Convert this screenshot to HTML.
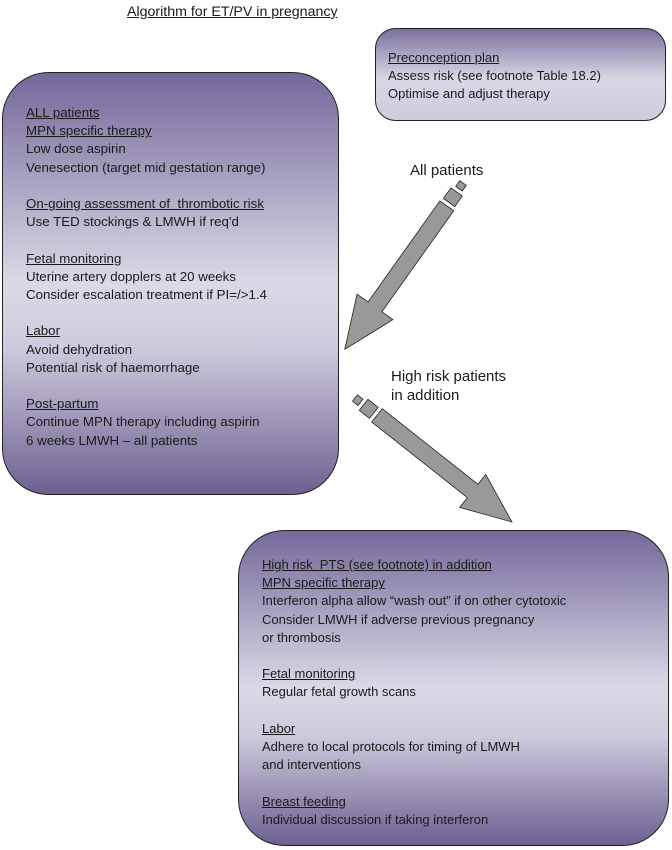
<!DOCTYPE html>
<html><head><meta charset="utf-8"><style>
body{margin:0;width:672px;height:850px;background:#fff;position:relative;overflow:hidden;font-family:"Liberation Sans",Arial,sans-serif;color:#1a1a1a}
.t{position:absolute;font-size:13px;line-height:18.2px;white-space:pre}
u{text-decoration:underline}
</style></head><body>
<svg width="672" height="850" style="position:absolute;left:0;top:0">
<defs>
<linearGradient id="g" x1="0" y1="0" x2="0" y2="1">
<stop offset="0" stop-color="#74689a"/>
<stop offset="0.5" stop-color="#dcd9e6"/>
<stop offset="0.65" stop-color="#cfcadd"/>
<stop offset="1" stop-color="#6c6091"/>
</linearGradient>
<linearGradient id="g2" x1="0" y1="0" x2="0" y2="1">
<stop offset="0" stop-color="#7a6f9e"/>
<stop offset="0.55" stop-color="#dad7e5"/>
<stop offset="1" stop-color="#cfcbdd"/>
</linearGradient>
</defs>
<rect x="375.5" y="28.5" width="290" height="92" rx="20" fill="url(#g2)" stroke="#222" stroke-width="1"/>
<rect x="2.5" y="72.5" width="336" height="422" rx="46" fill="url(#g)" stroke="#222" stroke-width="1"/>
<rect x="238.5" y="530.5" width="430" height="315" rx="46" fill="url(#g)" stroke="#222" stroke-width="1"/>
<g transform="translate(463,183) rotate(125.4)" fill="#999" stroke="#222" stroke-width="0.8">
<rect x="0" y="-4" width="7" height="8"/>
<rect x="11" y="-7" width="13" height="14"/>
<polygon points="28,-8.5 152,-8.5 152,-22 204,0 152,22 152,8.5 28,8.5"/>
</g>
<g transform="translate(355,398) rotate(38.3)" fill="#999" stroke="#222" stroke-width="0.8">
<rect x="0" y="-4" width="7" height="8"/>
<rect x="11" y="-7" width="13" height="14"/>
<polygon points="28,-8.5 150,-8.5 150,-21 200,0 150,21 150,8.5 28,8.5"/>
</g>
</svg>
<div class="t" style="left:127px;top:2px;font-size:14.2px;line-height:20px"><u>Algorithm for ET/PV in pregnancy</u></div>
<div class="t" style="left:388px;top:49px"><u>Preconception plan</u>
Assess risk (see footnote Table 18.2)
Optimise and adjust therapy</div>
<div class="t" style="left:410px;top:161px;font-size:15px;line-height:19px">All patients</div>
<div class="t" style="left:391px;top:367px;font-size:15px;line-height:19px">High risk patients
in addition</div>
<div class="t" style="left:26px;top:104px;font-size:13.3px"><u>ALL patients</u>
<u>MPN specific therapy</u>
Low dose aspirin
Venesection (target mid gestation range)

<u>On-going assessment of  thrombotic risk</u>
Use TED stockings &amp; LMWH if req'd

<u>Fetal monitoring</u>
Uterine artery dopplers at 20 weeks
Consider escalation treatment if PI=/&gt;1.4

<u>Labor</u>
Avoid dehydration
Potential risk of haemorrhage

<u>Post-partum</u>
Continue MPN therapy including aspirin
6 weeks LMWH – all patients</div>
<div class="t" style="left:262px;top:556px"><u>High risk  PTS (see footnote) in addition</u>
<u>MPN specific therapy</u>
Interferon alpha allow “wash out” if on other cytotoxic
Consider LMWH if adverse previous pregnancy
or thrombosis

<u>Fetal monitoring</u>
Regular fetal growth scans

<u>Labor</u>
Adhere to local protocols for timing of LMWH
and interventions

<u>Breast feeding</u>
Individual discussion if taking interferon</div>
</body></html>
